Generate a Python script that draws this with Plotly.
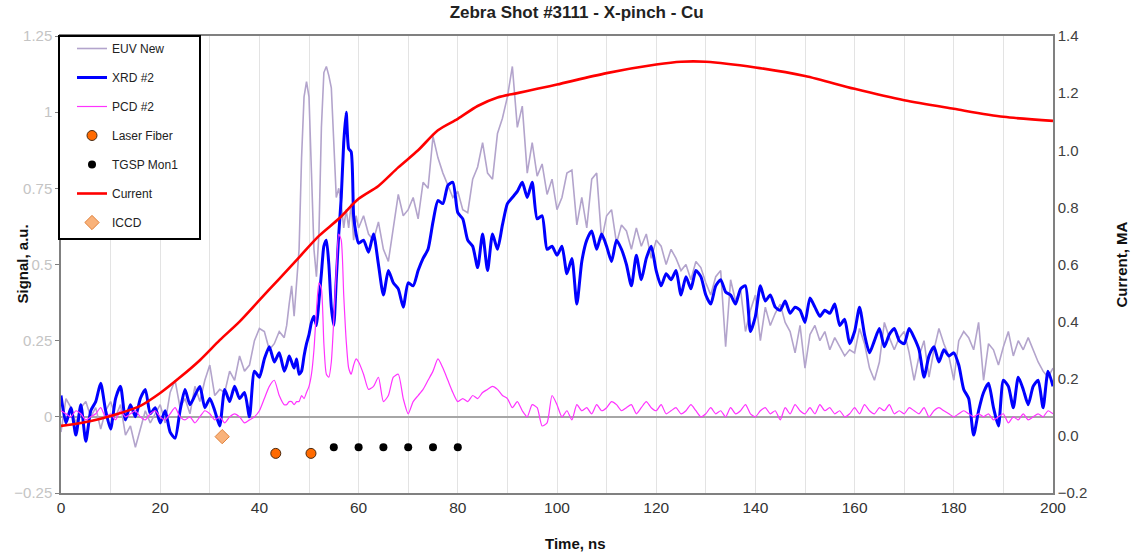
import numpy as np
import plotly.graph_objects as go

# ---------------- data ----------------
# time grid: 0..45 (1 ns), 45.5..60 (0.5 ns), 61..200 (1 ns)
t_a = np.arange(0, 46, 1.0)
t_b = np.arange(45.5, 60.01, 0.5)
t_c = np.arange(61, 201, 1.0)
t_sig = np.concatenate([t_a, t_b, t_c])

xrd_a = [0.07, -0.02, 0.03, -0.06, 0.04, -0.08, 0.02, 0.05, 0.11, 0.02,
         -0.04, 0.06, 0.10, -0.01, 0.04, 0.00, 0.06, 0.09, 0.01, 0.03,
         -0.02, 0.02, -0.05, -0.07, 0.02, 0.09, 0.04, 0.07, 0.10, 0.03,
         0.06, 0.02, -0.03, 0.09, 0.05, 0.10, 0.06, 0.08, 0.00, 0.15,
         0.13, 0.19, 0.23, 0.18, 0.21, 0.15]
xrd_b = [0.17, 0.20, 0.18, 0.16, 0.19, 0.14, 0.15, 0.20, 0.24, 0.27,
         0.31, 0.33, 0.30, 0.38, 0.47, 0.56, 0.58, 0.50, 0.36, 0.30,
         0.45, 0.60, 0.72, 0.90, 1.00, 0.88, 0.87, 0.66, 0.60, 0.57]
xrd_c = [0.58, 0.54, 0.60, 0.50, 0.40, 0.48, 0.44, 0.42, 0.36, 0.44,
         0.43, 0.48, 0.52, 0.55, 0.64, 0.71, 0.70, 0.76, 0.77, 0.67,
         0.65, 0.58, 0.56, 0.49, 0.60, 0.48, 0.60, 0.55, 0.63, 0.70,
         0.72, 0.74, 0.77, 0.72, 0.77, 0.65, 0.66, 0.55, 0.56, 0.53,
         0.56, 0.47, 0.52, 0.37, 0.51, 0.58, 0.61, 0.55, 0.60, 0.56,
         0.51, 0.58, 0.55, 0.50, 0.43, 0.53, 0.45, 0.52, 0.56, 0.48,
         0.43, 0.47, 0.45, 0.48, 0.40, 0.46, 0.42, 0.48, 0.46, 0.40,
         0.37, 0.43, 0.45, 0.41, 0.40, 0.37, 0.42, 0.43, 0.28, 0.33,
         0.43, 0.38, 0.40, 0.36, 0.35, 0.38, 0.34, 0.36, 0.35, 0.31,
         0.39, 0.36, 0.33, 0.35, 0.34, 0.37, 0.30, 0.32, 0.24, 0.28,
         0.36, 0.27, 0.21, 0.25, 0.29, 0.23, 0.27, 0.29, 0.25, 0.24,
         0.29, 0.26, 0.22, 0.13, 0.20, 0.23, 0.18, 0.22, 0.20, 0.21,
         0.17, 0.09, 0.06, -0.06, 0.02, 0.08, 0.11, 0.03, -0.03, 0.12,
         0.10, 0.03, 0.13, 0.09, 0.04, 0.10, 0.12, 0.03, 0.15, 0.10]

euv_a = [-0.05, 0.06, 0.03, -0.02, 0.03, 0.05, 0.00, 0.03, -0.04, 0.02,
         0.05, 0.00, 0.04, -0.06, -0.03, -0.10, -0.04, 0.02, -0.02, 0.01,
         0.04, -0.02, 0.08, 0.12, 0.03, 0.06, 0.01, 0.10, 0.05, 0.12,
         0.17, 0.07, 0.09, 0.08, 0.15, 0.12, 0.20, 0.15, 0.17, 0.25,
         0.29, 0.28, 0.22, 0.24, 0.28, 0.26]
euv_b = [0.30, 0.37, 0.43, 0.33, 0.45, 0.55, 0.85, 1.05, 1.10, 1.05,
         0.80, 0.55, 0.46, 0.60, 0.95, 1.13, 1.15, 1.12, 1.08, 0.90,
         0.72, 0.75, 0.70, 0.62, 0.68, 0.62, 0.70, 0.58, 0.66, 0.62]
euv_c = [0.66, 0.60, 0.58, 0.64, 0.55, 0.51, 0.62, 0.73, 0.66, 0.68,
         0.72, 0.65, 0.77, 0.75, 0.92, 0.85, 0.80, 0.76, 0.72, 0.74,
         0.68, 0.67, 0.78, 0.82, 0.90, 0.80, 0.78, 0.93, 0.98, 1.05,
         1.15, 0.95, 1.02, 0.80, 0.90, 0.79, 0.83, 0.73, 0.78, 0.68,
         0.72, 0.80, 0.81, 0.63, 0.72, 0.62, 0.78, 0.80, 0.58, 0.66,
         0.68, 0.57, 0.63, 0.61, 0.55, 0.62, 0.56, 0.60, 0.52, 0.58,
         0.56, 0.50, 0.55, 0.52, 0.48, 0.50, 0.45, 0.51, 0.49, 0.44,
         0.40, 0.46, 0.48, 0.23, 0.45, 0.38, 0.42, 0.28, 0.35, 0.40,
         0.25, 0.36, 0.30, 0.34, 0.37, 0.31, 0.28, 0.21, 0.30, 0.16,
         0.27, 0.30, 0.25, 0.28, 0.22, 0.26, 0.23, 0.20, 0.22, 0.21,
         0.29, 0.24, 0.16, 0.12, 0.18, 0.31, 0.26, 0.22, 0.26, 0.28,
         0.21, 0.12, 0.20, 0.25, 0.13, 0.22, 0.29, 0.24, 0.20, 0.12,
         0.25, 0.28, 0.26, 0.22, 0.31, 0.12, 0.24, 0.22, 0.17, 0.23,
         0.28, 0.20, 0.25, 0.22, 0.26, 0.22, 0.18, 0.15, 0.13, 0.16]

pcd_a = [0.02, 0.01, 0.00, 0.02, 0.01, -0.01, 0.00, 0.01, 0.03, 0.00,
         0.01, -0.01, 0.02, 0.00, 0.01, 0.02, 0.00, -0.01, 0.01, 0.02,
         0.00, -0.01, 0.01, 0.03, 0.00, -0.01, 0.00, -0.02, 0.00, 0.02,
         0.01, -0.01, 0.00, -0.02, 0.00, 0.01, 0.00, -0.02, -0.01, 0.00,
         0.02, 0.06, 0.10, 0.12, 0.07, 0.04]
pcd_b = [0.04, 0.05, 0.05, 0.04, 0.05, 0.05, 0.07, 0.06, 0.08, 0.10,
         0.14, 0.22, 0.35, 0.44, 0.42, 0.24, 0.14, 0.13, 0.18, 0.32,
         0.48, 0.60, 0.58, 0.40, 0.25, 0.16, 0.14, 0.17, 0.19, 0.18]
pcd_c = [0.14, 0.09, 0.10, 0.13, 0.05, 0.07, 0.13, 0.14, 0.06, 0.01,
         0.05, 0.07, 0.09, 0.12, 0.15, 0.19, 0.16, 0.12, 0.08, 0.05,
         0.06, 0.05, 0.07, 0.06, 0.08, 0.09, 0.10, 0.09, 0.07, 0.06,
         0.03, 0.05, 0.02, 0.00, 0.04, 0.03, -0.03, -0.02, 0.07, 0.04,
         0.00, 0.02, -0.01, 0.04, 0.02, 0.03, 0.01, 0.04, 0.02, 0.03,
         0.05, 0.04, 0.02, 0.03, 0.04, 0.01, 0.03, 0.05, 0.03, 0.02,
         0.04, 0.01, 0.02, 0.03, 0.01, 0.02, 0.04, 0.02, 0.00, 0.01,
         0.03, 0.01, 0.02, 0.00, 0.03, 0.01, 0.02, 0.04, 0.01, 0.00,
         0.02, 0.03, 0.01, 0.02, -0.01, 0.03, 0.01, 0.04, 0.02, 0.01,
         0.03, 0.01, 0.04, 0.02, 0.03, 0.01, 0.02, 0.00, 0.01, 0.03,
         0.01, 0.04, 0.02, 0.01, 0.03, 0.02, 0.04, 0.01, 0.02, 0.01,
         0.03, 0.02, 0.01, 0.03, 0.00, 0.02, 0.03, 0.02, 0.01, 0.00,
         0.01, 0.02, 0.01, 0.00, 0.01, 0.00, 0.01, -0.01, 0.00, 0.01,
         -0.02, 0.00, -0.01, 0.01, -0.01, 0.00, 0.01, 0.00, 0.02, 0.01]

xrd = xrd_a + xrd_b + xrd_c
euv = euv_a + euv_b + euv_c
pcd = pcd_a + pcd_b + pcd_c

cur_t = [0, 4, 8, 12, 16, 20, 24, 28, 32, 36, 40, 44, 48, 52, 56, 60, 64, 68,
         72, 76, 80, 84, 88, 92, 96, 100, 110, 120, 125, 130, 140, 150, 160,
         170, 180, 190, 200]
cur_ma = [0.035, 0.045, 0.06, 0.08, 0.105, 0.15, 0.205, 0.265, 0.335, 0.40,
          0.475, 0.55, 0.625, 0.70, 0.76, 0.83, 0.875, 0.94, 1.00, 1.07,
          1.11, 1.155, 1.185, 1.20, 1.215, 1.23, 1.27, 1.30, 1.31, 1.31,
          1.29, 1.26, 1.215, 1.175, 1.145, 1.117, 1.103]

laser_t = [43.3, 50.4]
laser_y = [-0.12, -0.12]
tgsp_t = [55, 60, 65, 70, 75, 80]
tgsp_y = [-0.10, -0.10, -0.10, -0.10, -0.10, -0.10]
iccd_t = [32.5]
iccd_y = [-0.065]

x_ticks = [0, 20, 40, 60, 80, 100, 120, 140, 160, 180, 200]

# ---------------- figure ----------------
FONT = "Arial, Liberation Sans, sans-serif"
fig = go.Figure()

fig.add_trace(go.Scatter(x=t_sig, y=euv, mode="lines", name="EUV New",
                         legendgroup="g1",
                         line=dict(color="#b3a4cc", width=1.6)))
fig.add_trace(go.Scatter(x=t_sig, y=xrd, mode="lines", name="XRD #2",
                         legendgroup="g2",
                         line=dict(color="#0000ff", width=3, shape="spline", smoothing=0.6)))
fig.add_trace(go.Scatter(x=t_sig, y=pcd, mode="lines", name="PCD #2",
                         legendgroup="g3",
                         line=dict(color="#ff33ff", width=1.2, shape="spline", smoothing=0.6)))
fig.add_trace(go.Scatter(x=laser_t, y=laser_y, mode="markers", name="Laser Fiber",
                         legendgroup="g4",
                         marker=dict(color="#ff6a00", size=10, line=dict(color="#4a2a10", width=1))))
fig.add_trace(go.Scatter(x=tgsp_t, y=tgsp_y, mode="markers", name="TGSP Mon1",
                         legendgroup="g5",
                         marker=dict(color="#000000", size=8)))
fig.add_trace(go.Scatter(x=cur_t, y=cur_ma, mode="lines", name="Current",
                         legendgroup="g6", yaxis="y2",
                         line=dict(color="#ff0000", width=2.6, shape="spline", smoothing=0.8)))
fig.add_trace(go.Scatter(x=iccd_t, y=iccd_y, mode="markers", name="ICCD",
                         legendgroup="g7",
                         marker=dict(symbol="diamond", color="#f9b27a", size=11,
                                     line=dict(color="#e0823c", width=1))))

TITLE_FONT = dict(size=15, color="#111111", family=FONT)

# legend frame (pixel geometry converted to plot-domain fractions)
PX_L, PX_R, PX_T, PX_B = 61, 1053, 36, 493
def fx(px):
    return (px - PX_L) / (PX_R - PX_L)
def fy(py):
    return (PX_B - py) / (PX_B - PX_T)

fig.update_layout(
    width=1133, height=554,
    margin=dict(l=61, r=80, t=36, b=61, autoexpand=False),
    paper_bgcolor="white", plot_bgcolor="white",
    font=dict(family=FONT, size=13, color="#333333"),
    title=dict(text="<b>Zebra Shot #3111 - X-pinch - Cu</b>", x=0.509, xanchor="center",
               xref="container", y=0.978, yanchor="middle",
               font=dict(size=17, color="#222222")),
    showlegend=True,
    legend=dict(x=fx(72), y=fy(34), xanchor="left", yanchor="top",
                bgcolor="rgba(0,0,0,0)", borderwidth=0,
                font=dict(size=12, color="#222222", family=FONT),
                tracegroupgap=10, itemwidth=30),
    shapes=[dict(type="rect", xref="paper", yref="paper",
                 x0=fx(59), x1=fx(200), y0=fy(239), y1=fy(36),
                 line=dict(color="#000000", width=2), fillcolor="white",
                 layer="above")],
    xaxis=dict(range=[0, 200], tickvals=x_ticks, showgrid=True,
               gridcolor="#e3e3e3", gridwidth=1,
               minor=dict(dtick=10, showgrid=True, gridcolor="#e3e3e3", gridwidth=1),
               showline=True, linecolor="#808080", linewidth=1.5, mirror=True,
               ticks="", tickfont=dict(size=15.5, color="#333333"),
               automargin=False, zeroline=False),
    yaxis=dict(range=[-0.25, 1.25], dtick=0.25, showgrid=False,
               showline=True, linecolor="#808080", linewidth=1.5,
               ticks="outside", ticklen=4, tickcolor="#808080",
               tickfont=dict(size=15, color="#c4c4c4"), automargin=False,
               zeroline=True, zerolinecolor="#a6a6a6", zerolinewidth=2),
    yaxis2=dict(range=[-0.2, 1.4], dtick=0.2, tickformat=".1f", overlaying="y",
                side="right", showgrid=False, zeroline=False, automargin=False,
                showline=True, linecolor="#808080", linewidth=1.5,
                ticks="", tickfont=dict(size=15, color="#404040")),
    annotations=[
        dict(text="<b>Time, ns</b>", x=fx(575), y=fy(543),
             xref="paper", yref="paper", showarrow=False, font=TITLE_FONT,
             xanchor="center", yanchor="middle"),
        dict(text="<b>Signal, a.u.</b>", x=fx(22), y=0.5,
             xref="paper", yref="paper", showarrow=False, font=TITLE_FONT,
             textangle=-90, xanchor="center", yanchor="middle"),
        dict(text="<b>Current, MA</b>", x=fx(1121), y=0.5,
             xref="paper", yref="paper", showarrow=False, font=TITLE_FONT,
             textangle=-90, xanchor="center", yanchor="middle"),
    ],
)

fig.write_html("out.html")
